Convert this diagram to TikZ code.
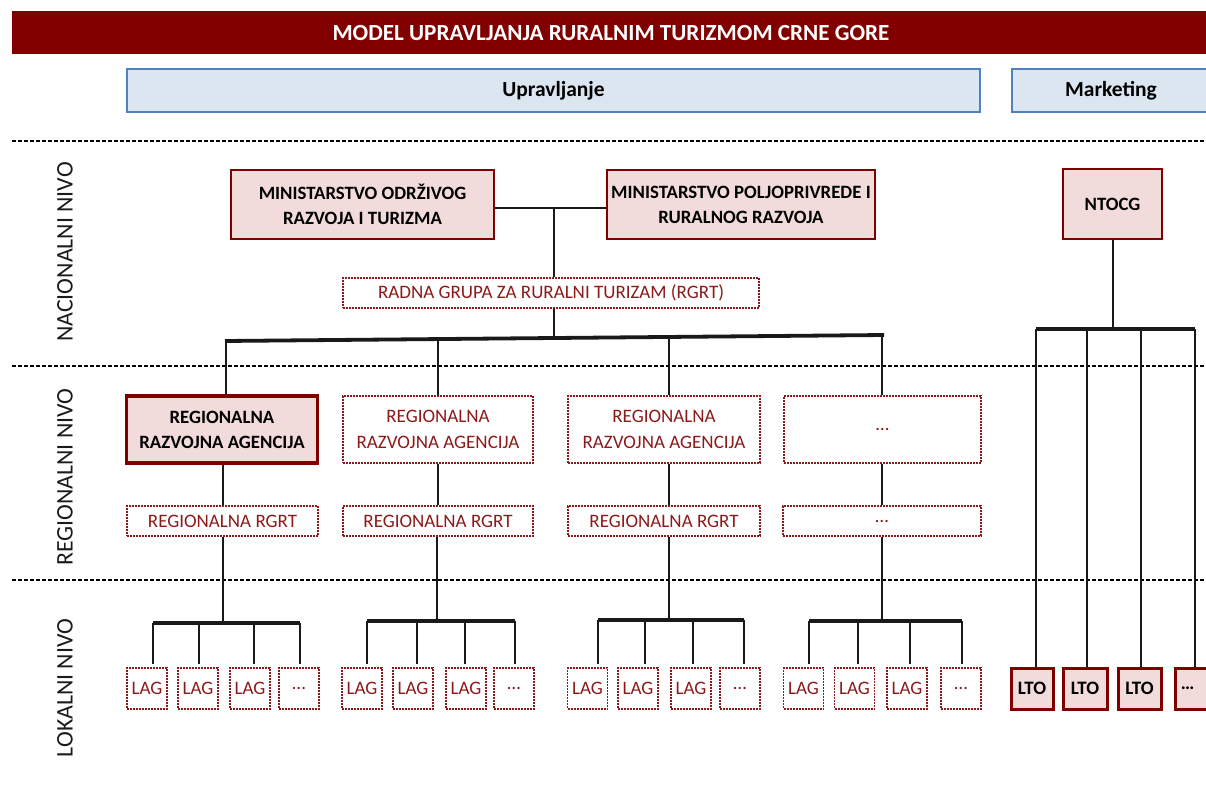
\documentclass[tikz,border=0pt]{standalone}
\usepackage{fontspec}
\setmainfont{Carlito}
\definecolor{dred}{HTML}{800000}
\definecolor{tred}{HTML}{8C1A1A}
\definecolor{pinkf}{HTML}{F2DCDB}
\definecolor{lblue}{HTML}{DCE6F1}
\definecolor{bblue}{HTML}{4F81BD}
\definecolor{lvl}{HTML}{1A1A1A}
\tikzset{
  conn/.style={line width=2.5pt, draw=black!90},
  busline/.style={line width=3.8pt, draw=black!90},
  levelline/.style={line width=1.3pt, draw=black, dash pattern=on 4pt off 2pt},
  solidbox/.style={draw=dred, fill=pinkf, line width=2.5pt, inner sep=0pt, align=center,
    font=\bfseries\fontsize{18.8}{25}\selectfont},
  dotbox/.style={draw=tred, fill=white, line width=1.5pt, dash pattern=on 2pt off 1pt,
    inner sep=0pt, align=center, text=tred, font=\fontsize{19}{25.5}\selectfont},
  headbox/.style={draw=bblue, fill=lblue, line width=2pt, inner sep=0pt,
    font=\bfseries\fontsize{21.5}{25}\selectfont},
  lvltext/.style={rotate=90, text=lvl, font=\fontsize{23.8}{28}\selectfont},
  lagbox/.style={dotbox, minimum width=40pt, minimum height=41pt},
  ltobox/.style={solidbox, line width=3pt, minimum height=41pt, font=\bfseries\fontsize{19}{22}\selectfont},
}
\begin{document}
\begin{tikzpicture}[x=1pt,y=-1pt]
\useasboundingbox (0,0) rectangle (1206,791);
\clip (0,0) rectangle (1206,791);
% title
\fill[dred] (12,11) rectangle (1230,54);
\node[text=white, font=\bfseries\fontsize{23.1}{27}\selectfont] (title) at (611,33) {MODEL UPRAVLJANJA RURALNIM TURIZMOM CRNE GORE};
% headers
\node[headbox, minimum width=853pt, minimum height=43pt] (upr) at (553.5,90.5) {Upravljanje};
\node[headbox, minimum width=214pt, minimum height=43pt, anchor=west] (mkt) at (1011,90.5) {};
\node[font=\bfseries\fontsize{21.5}{25}\selectfont] (mktt) at (1111,90.5) {Marketing};
% level separators
\coordinate (l1a) at (12,141); \coordinate (l1b) at (1206,141);
\coordinate (l2a) at (12,366); \coordinate (l2b) at (1206,366);
\coordinate (l3a) at (12,580); \coordinate (l3b) at (1206,580);
\draw[levelline] (l1a) -- (l1b);
\draw[levelline] (l2a) -- (l2b);
\draw[levelline] (l3a) -- (l3b);
\node[lvltext] (nac) at (65,252) {NACIONALNI NIVO};
\node[lvltext] (reg) at (65,477) {REGIONALNI NIVO};
\node[lvltext] (lok) at (65,688) {LOKALNI NIVO};
% national
\node[solidbox, minimum width=263pt, minimum height=69pt] (m1) at (362.5,204.5) {MINISTARSTVO ODRŽIVOG\\RAZVOJA I TURIZMA};
\node[solidbox, minimum width=268pt, minimum height=69pt] (m2) at (741,204.5) {MINISTARSTVO POLJOPRIVREDE I\\RURALNOG RAZVOJA};
\node[solidbox, minimum width=99pt, minimum height=70pt] (ntocg) at (1112.5,204) {NTOCG};
\node[dotbox, minimum width=416pt, minimum height=30pt] (rgrt) at (551,293) {RADNA GRUPA ZA RURALNI TURIZAM (RGRT)};
\coordinate (j1) at (554,208);
\draw[conn] (m1.east |- j1) -- (m2.west |- j1);
\draw[conn] (j1) -- (j1 |- rgrt.north);
\coordinate (nbL) at (225,341);
\coordinate (nbR) at (884,335);
\coordinate (nbC) at (554,338);
\draw[conn] (nbC |- rgrt.south) -- (nbC);
\draw[busline] (nbL) -- (nbR);
% regional
\node[solidbox, line width=3.8pt, minimum width=191pt, minimum height=67pt] (r1) at (222,429.5) {REGIONALNA\\RAZVOJNA AGENCIJA};
\node[dotbox, minimum width=190pt, minimum height=67pt] (r2) at (438,429.5) {REGIONALNA\\RAZVOJNA AGENCIJA};
\node[dotbox, minimum width=192pt, minimum height=67pt] (r3) at (664,429.5) {REGIONALNA\\RAZVOJNA AGENCIJA};
\node[dotbox, minimum width=197pt, minimum height=67pt] (r4) at (882.5,429.5) {…};
\node[dotbox, minimum width=191pt, minimum height=30pt] (g1) at (222.5,521) {REGIONALNA RGRT};
\node[dotbox, minimum width=190pt, minimum height=30pt] (g2) at (438,521) {REGIONALNA RGRT};
\node[dotbox, minimum width=192pt, minimum height=30pt] (g3) at (664,521) {REGIONALNA RGRT};
\node[dotbox, minimum width=198pt, minimum height=30pt] (g4) at (882,521) {…};
\coordinate (bA) at (226,341);
\coordinate (bB) at (438,339);
\coordinate (bC) at (669,337);
\coordinate (bD) at (882,333);
\draw[conn] (bA) -- (bA |- r1.north);
\draw[conn] (bB) -- (bB |- r2.north);
\draw[conn] (bC) -- (bC |- r3.north);
\draw[conn] (bD) -- (bD |- r4.north);
\coordinate (cA) at (223,0); \coordinate (cB) at (438,0);
\coordinate (cC) at (669,0); \coordinate (cD) at (882,0);
\draw[conn] (cA |- r1.south) -- (cA |- g1.north);
\draw[conn] (cB |- r2.south) -- (cB |- g2.north);
\draw[conn] (cC |- r3.south) -- (cC |- g3.north);
\draw[conn] (cD |- r4.south) -- (cD |- g4.north);
% local LAG groups
\foreach \g/\cx/\by/\la/\lb/\lc/\ld/\xa/\xb/\xc/\xd in {
  1/223/623/153/199/254/300/147/198/250/299,
  2/437/621/367/417/465/515/362/413/466/514,
  3/669/620/598/645/693/744/587.5/638/691/740,
  4/882/621/809/858/910/962/803.5/854.5/907/961}{
  \node[lagbox] (lag\g a) at (\xa,688.5) {LAG};
  \node[lagbox] (lag\g b) at (\xb,688.5) {LAG};
  \node[lagbox] (lag\g c) at (\xc,688.5) {LAG};
  \node[lagbox] (lag\g d) at (\xd,688.5) {…};
  \coordinate (lb\g) at (\cx,\by);
  \draw[conn] (lb\g |- g\g.south) -- (lb\g);
  \draw[busline] (\la,\by) -- (\ld,\by);
  \draw[conn] (\la,\by) -- ([yshift=3pt]lag\g a.north -| \la,0);
  \draw[conn] (\lb,\by) -- ([yshift=3pt]lag\g b.north -| \lb,0);
  \draw[conn] (\lc,\by) -- ([yshift=3pt]lag\g c.north -| \lc,0);
  \draw[conn] (\ld,\by) -- ([yshift=3pt]lag\g d.north -| \ld,0);
}
% marketing branch
\node[ltobox, minimum width=42pt] (lto1) at (1032,688.5) {LTO};
\node[ltobox, minimum width=44pt] (lto2) at (1085,688.5) {LTO};
\node[ltobox, minimum width=43pt] (lto3) at (1139.5,688.5) {LTO};
\node[ltobox, minimum width=44pt, anchor=west] (lto4) at (1174,688.5) {\hspace*{-20pt}…};
\coordinate (tb) at (1113,329);
\draw[conn] (ntocg.south -| tb) -- (tb);
\draw[busline] (1036,329) -- (1195,329);
\coordinate (t1) at (1036,329); \coordinate (t2) at (1087,329);
\coordinate (t3) at (1141,329); \coordinate (t4) at (1195,329);
\draw[conn] (t1) -- (t1 |- lto1.north);
\draw[conn] (t2) -- (t2 |- lto2.north);
\draw[conn] (t3) -- (t3 |- lto3.north);
\draw[conn] (t4) -- (t4 |- lto4.north);
\end{tikzpicture}
\end{document}
